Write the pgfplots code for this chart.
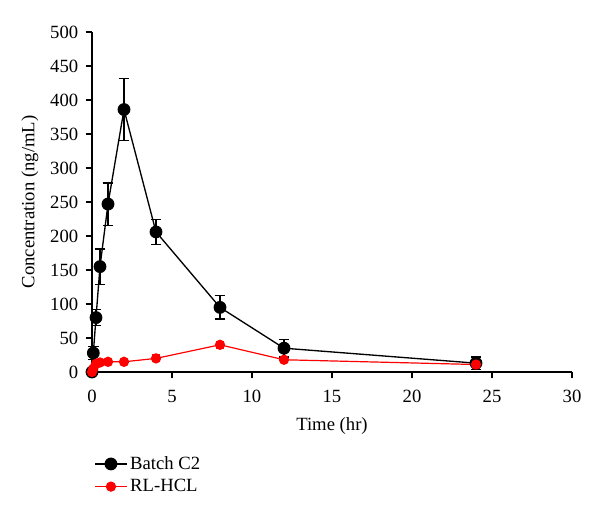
\documentclass[border=0pt]{standalone}
\usepackage{pgfplots}
\pgfplotsset{compat=1.18}
\usepackage{fontspec}
\setmainfont{Liberation Serif}
\begin{document}
\begin{tikzpicture}[x=0.75pt,y=0.75pt]
\useasboundingbox (-92,-146) rectangle (508,372);
\begin{axis}[
  at={(0,0)}, anchor=origin,
  scale only axis, width=360pt, height=255pt,
  xmin=0, xmax=30, ymin=0, ymax=500,
  axis x line*=bottom, axis y line*=left,
  xtick={0,5,...,30}, ytick={0,50,...,500},
  tick align=outside, major tick length=4.8pt,
  every tick/.style={black, line width=0.8pt},
  axis line style={line width=0.8pt},
  tick label style={font=\fontsize{14}{16}\selectfont},
  xticklabel style={yshift=-5pt},
  yticklabel style={xshift=-2pt},
  /pgf/number format/assume math mode=true,
  xlabel={Time (hr)}, ylabel={Concentration (ng/mL)},
  label style={font=\fontsize{14}{16}\selectfont},
  xlabel style={yshift=-4.5pt},
  ylabel style={yshift=2pt},
  clip=false,
  legend style={at={(axis description cs:-0.004,-0.232)}, anchor=north west, draw=none, fill=none,
    font=\fontsize{14}{16}\selectfont, row sep=2pt, cells={anchor=west, xshift=10pt}},
  legend cell align=left,
  legend image code/.code={\draw[mark repeat=2,mark phase=2,#1] plot coordinates {(0cm,0cm) (0.42cm,0cm) (0.84cm,0cm)};},
]
\addplot[black, line width=1pt, mark=*, mark size=4.3pt,
  error bars/.cd, y dir=both, y explicit, error bar style={line width=0.9pt}, error mark options={rotate=90, mark size=4pt, line width=0.9pt}]
coordinates {
(0,0) +- (0,0)
(0.083,28) +- (0,10)
(0.25,80) +- (0,12)
(0.5,155) +- (0,26)
(1,247) +- (0,31)
(2,386) +- (0,46)
(4,206) +- (0,18)
(8,95) +- (0,17)
(12,35) +- (0,13)
(24,13) +- (0,9)
};
\addlegendentry{Batch C2}
\addplot[red, line width=0.9pt, mark=*, mark size=3.4pt,
  error bars/.cd, y dir=both, y explicit, error bar style={line width=0.9pt}, error mark options={rotate=90, mark size=3pt, line width=0.9pt}]
coordinates {
(0,0) +- (0,0)
(0.083,5) +- (0,1)
(0.25,12) +- (0,2)
(0.5,14) +- (0,2)
(1,15) +- (0,2)
(2,15) +- (0,2)
(4,20) +- (0,5)
(8,40) +- (0,5)
(12,18) +- (0,3)
(24,11) +- (0,6)
};
\addlegendentry{RL-HCL}
\end{axis}
\end{tikzpicture}
\end{document}
